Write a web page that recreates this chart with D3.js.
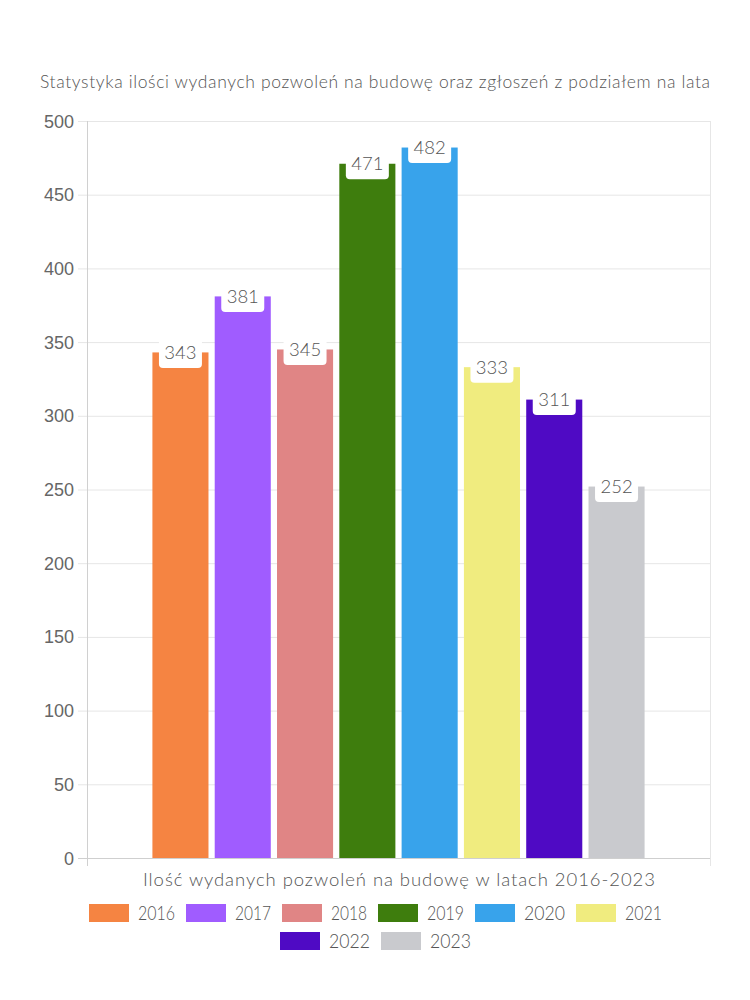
<!DOCTYPE html>
<html><head><meta charset="utf-8">
<script src="https://cdn.jsdelivr.net/npm/d3@7"></script>
<style>body{margin:0;background:#fff}svg{display:block}</style>
</head><body>
<script>
const years = ["2016","2017","2018","2019","2020","2021","2022","2023"];
const values = [343,381,345,471,482,333,311,252];
const colors = ["#F58442","#A05CFF","#E08585","#3E7D0D","#38A3EB","#F0EC7F","#4F0AC4","#C9CACE"];
const yTicks = [0,50,100,150,200,250,300,350,400,450,500];
const titleText = "Statystyka ilości wydanych pozwoleń na budowę oraz zgłoszeń z podziałem na lata";
const xTitleText = "Ilość wydanych pozwoleń na budowę w latach 2016-2023";

(function(){
const W=750,H=1000;
const pL=87,pR=710,pT=121,pB=858;
const font="Lato, 'Noto Sans', sans-serif";
const fw=300;
const tc="#555";
const svg=d3.select("body").append("svg").attr("width",W).attr("height",H);

const y=d3.scaleLinear().domain([0,500]).range([pB,pT]);
const catW=pR-pL;
const x=d3.scaleBand().domain(years)
  .range([pL+catW*0.1, pR-catW*0.1]).paddingInner(0.1).paddingOuter(0.05);

// title
svg.append("text").attr("x",375).attr("y",88).attr("text-anchor","middle")
  .attr("font-family",font).attr("font-weight",fw).attr("font-size",17.5).attr("fill",tc)
  .attr("textLength",670).attr("lengthAdjust","spacing").text(titleText);

// grid
const g=svg.append("g");
g.selectAll("line.grid").data(yTicks).join("line")
  .attr("x1",pL-9).attr("x2",pR).attr("y1",d=>y(d)+0.5).attr("y2",d=>y(d)+0.5)
  .attr("stroke",d=>d===0?"#cfcfcf":"#e6e6e6").attr("stroke-width",1);
g.append("line").attr("x1",pL+0.5).attr("x2",pL+0.5).attr("y1",pT).attr("y2",pB+8)
  .attr("stroke","#d0d0d0");
g.append("line").attr("x1",pR+0.5).attr("x2",pR+0.5).attr("y1",pT).attr("y2",pB+8)
  .attr("stroke","#e6e6e6");

// y tick labels
g.selectAll("text.yt").data(yTicks).join("text")
  .attr("x",pL-13).attr("y",d=>y(d)+6.5).attr("text-anchor","end")
  .attr("font-family","'Liberation Sans', Arial, sans-serif").attr("font-size",18).attr("fill","#666")
  .text(d=>d);

// bars
svg.selectAll("rect.bar").data(years).join("rect")
  .attr("x",d=>x(d)).attr("width",x.bandwidth())
  .attr("y",(d,i)=>y(values[i])).attr("height",(d,i)=>pB-y(values[i]))
  .attr("fill",(d,i)=>colors[i]);

// labels
const lab=svg.selectAll("g.lab").data(years).join("g")
  .attr("transform",(d,i)=>`translate(${x(d)+x.bandwidth()/2},${y(values[i])})`);
lab.append("rect").attr("x",-21.5).attr("y",-15.5).attr("width",43).attr("height",31)
  .attr("rx",4).attr("fill","#fff");
lab.append("text").attr("y",6.5).attr("text-anchor","middle")
  .attr("font-family",font).attr("font-weight",fw).attr("font-size",18.5).attr("fill",tc)
  .text((d,i)=>values[i]);

// x title
svg.append("text").attr("x",399).attr("y",886).attr("text-anchor","middle")
  .attr("font-family",font).attr("font-weight",fw).attr("font-size",18.5).attr("fill",tc)
  .attr("textLength",512).attr("lengthAdjust","spacing").text(xTitleText);

// legend
const rows=[years.slice(0,6),years.slice(6)];
const rowY=[904,932];
const legW={"2016":37,"2017":36,"2018":36,"2019":37,"2020":41,"2021":37,"2022":41,"2023":41};
rows.forEach((row,ri)=>{
  const total=d3.sum(row,yr=>50+legW[yr])+(row.length-1)*10;
  let cx=376-total/2;
  row.forEach(yr=>{
    const i=years.indexOf(yr);
    svg.append("rect").attr("x",cx).attr("y",rowY[ri]).attr("width",40).attr("height",18)
      .attr("fill",colors[i]);
    svg.append("text").attr("x",cx+49).attr("y",rowY[ri]+16)
      .attr("font-family",font).attr("font-weight",fw).attr("font-size",19).attr("fill",tc)
      .attr("textLength",legW[yr]).attr("lengthAdjust","spacingAndGlyphs").text(yr);
    cx+=50+legW[yr]+10;
  });
});
})();
</script>
</body></html>
